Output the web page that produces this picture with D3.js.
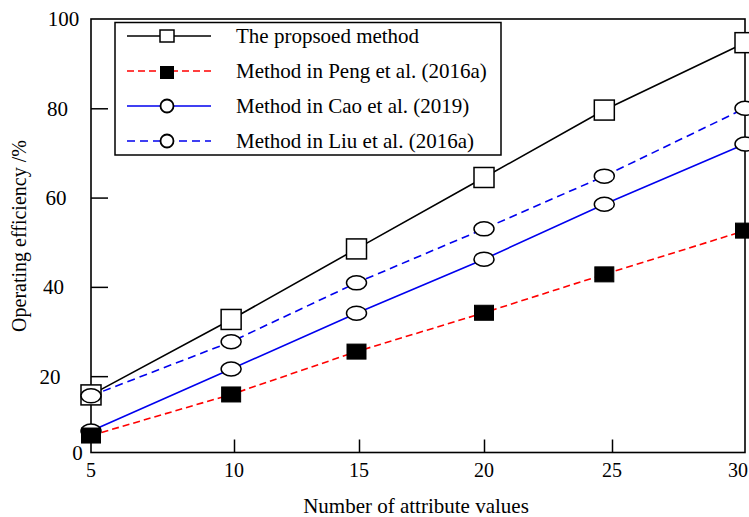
<!DOCTYPE html>
<html>
<head>
<meta charset="utf-8">
<script src="https://cdn.jsdelivr.net/npm/d3@7"></script>
<style>
  html, body { margin: 0; padding: 0; background: #fff; }
  svg { display: block; }
  text { font-family: "Liberation Serif", "Times New Roman", serif; fill: #000; }
</style>
</head>
<body>
<script>
// ---------- data ----------
const xTickValues = [5, 10, 15, 20, 25, 30];
const xTickLabels = ["5", "10", "15", "20", "25", "30"];
const yTickValues = [20, 40, 60, 80, 100];
const yTickLabels = ["20", "40", "60", "80", "100"];
const xValues = [5, 9.9, 14.9, 20, 24.7, 30];
const proposed = [15.8, 32.7, 48.5, 64.5, 79.6, 94.7];
const peng     = [6.7, 15.9, 25.5, 34.2, 42.8, 52.6];
const cao      = [7.7, 21.6, 34.1, 46.2, 58.5, 72.0];
const liu      = [15.6, 27.7, 40.9, 53.0, 64.8, 80.0];
const seriesNames = ["The propsoed method", "Method in Peng et al. (2016a)", "Method in Cao et al. (2019)", "Method in Liu et al. (2016a)"];
const xTitle = "Number of attribute values";
const yTitle = "Operating efficiency /%";

// ---------- layout ----------
const W = 749, H = 517;
const pLeft = 91, pRight = 745, pTop = 19, pBottom = 452.5;
const svg = d3.select("body").append("svg").attr("width", W).attr("height", H);

const x = d3.scaleLinear().domain(xTickValues).range([pLeft, 234, 359, 484, 612, pRight]);
const y = d3.scaleLinear().domain([2.9, 100]).range([pBottom, pTop]);

const styles = [
  {name: seriesNames[0], data: proposed, color: "#000", dash: null, marker: "openSquare"},
  {name: seriesNames[1], data: peng, color: "#ff0000", dash: "7,4", marker: "blackSquare"},
  {name: seriesNames[2], data: cao, color: "#0000ee", dash: null, marker: "circle"},
  {name: seriesNames[3], data: liu, color: "#0000ee", dash: "8,5", marker: "circle"}
];

// frame
svg.append("rect").attr("x", pLeft).attr("y", pTop).attr("width", pRight - pLeft).attr("height", pBottom - pTop)
  .attr("fill", "none").attr("stroke", "#000").attr("stroke-width", 1.6);

// y ticks (inward)
const yAxis = d3.axisLeft(y).tickValues(yTickValues.filter(v => v < 100)).tickSize(-17).tickFormat("");
svg.append("g").attr("transform", `translate(${pLeft},0)`).call(yAxis)
  .call(g => g.select(".domain").remove())
  .call(g => g.selectAll("line").attr("stroke", "#000").attr("stroke-width", 1.5));
// x ticks (inward)
const xAxis = d3.axisBottom(x).tickValues(xTickValues.slice(1, -1)).tickSize(-13).tickFormat("");
svg.append("g").attr("transform", `translate(0,${pBottom})`).call(xAxis)
  .call(g => g.select(".domain").remove())
  .call(g => g.selectAll("line").attr("stroke", "#000").attr("stroke-width", 1.5));

// y tick labels (centres as placed in the reference)
const yLabelX = {"20": 50, "40": 53.5, "60": 56, "80": 57.5, "100": 63.5};
yTickValues.forEach((v, i) => {
  svg.append("text").attr("x", yLabelX[yTickLabels[i]]).attr("y", y(v)).attr("dy", "0.35em")
    .attr("text-anchor", "middle").attr("font-size", 21).text(yTickLabels[i]);
});
svg.append("text").attr("x", 77.5).attr("y", pBottom).attr("dy", "0.35em")
  .attr("text-anchor", "middle").attr("font-size", 21).text("0");

// x tick labels (last one kept inside the picture, as in the reference)
xTickValues.forEach((v, i) => {
  const last = i === xTickValues.length - 1;
  svg.append("text").attr("x", last ? W - 1 : x(v)).attr("y", 477)
    .attr("text-anchor", last ? "end" : "middle").attr("font-size", 20).text(xTickLabels[i]);
});

// titles
svg.append("text").attr("x", (pLeft + pRight) / 2 - 2).attr("y", 513)
  .attr("text-anchor", "middle").attr("font-size", 21).text(xTitle);
svg.append("text").attr("transform", `translate(26,236) rotate(-90)`)
  .attr("text-anchor", "middle").attr("font-size", 20).text(yTitle);

// lines
const line = d3.line().x((d, i) => x(xValues[i])).y(d => y(d));
styles.forEach(s => {
  svg.append("path").datum(s.data).attr("d", line).attr("fill", "none")
    .attr("stroke", s.color).attr("stroke-width", 1.6)
    .attr("stroke-dasharray", s.dash);
});

function drawMarker(g, type, cx, cy, scale) {
  if (type === "openSquare") {
    const w = 20 * scale, h = 20 * scale;
    g.append("rect").attr("x", cx - w / 2).attr("y", cy - h / 2).attr("width", w).attr("height", h)
      .attr("fill", "#fff").attr("stroke", "#000").attr("stroke-width", 1.5);
  } else if (type === "blackSquare") {
    const w = 19 * scale, h = 15 * scale;
    g.append("rect").attr("x", cx - w / 2).attr("y", cy - h / 2).attr("width", w).attr("height", h)
      .attr("fill", "#000").attr("stroke", "#000").attr("stroke-width", 1);
  } else {
    g.append("ellipse").attr("cx", cx).attr("cy", cy).attr("rx", 10 * scale).attr("ry", 7 * scale)
      .attr("fill", "#fff").attr("stroke", "#000").attr("stroke-width", 1.5);
  }
}

// markers (draw order: proposed, Cao, Liu, Peng)
const mg = svg.append("g");
[0, 2, 3, 1].forEach(k => {
  const s = styles[k];
  s.data.forEach((v, i) => drawMarker(mg, s.marker, x(xValues[i]), y(v), 1));
});

// legend
const lg = svg.append("g");
lg.append("rect").attr("x", 115).attr("y", 22.5).attr("width", 386).attr("height", 132.5)
  .attr("fill", "#fff").attr("stroke", "#000").attr("stroke-width", 1.5);
styles.forEach((s, i) => {
  const cy = 36 + i * 35;
  lg.append("line").attr("x1", 127).attr("x2", 211).attr("y1", cy).attr("y2", cy)
    .attr("stroke", s.color).attr("stroke-width", 1.6).attr("stroke-dasharray", s.dash);
  if (s.marker === "openSquare") {
    lg.append("rect").attr("x", 160).attr("y", cy - 6).attr("width", 14).attr("height", 12)
      .attr("fill", "#fff").attr("stroke", "#000").attr("stroke-width", 1.5);
  } else if (s.marker === "blackSquare") {
    lg.append("rect").attr("x", 160).attr("y", cy - 5).attr("width", 14).attr("height", 13)
      .attr("fill", "#000");
  } else {
    lg.append("circle").attr("cx", 167).attr("cy", cy).attr("r", 6.5)
      .attr("fill", "#fff").attr("stroke", "#000").attr("stroke-width", 1.8);
  }
  lg.append("text").attr("x", 236).attr("y", cy + 7).attr("font-size", 21).text(s.name);
});
</script>
</body>
</html>
